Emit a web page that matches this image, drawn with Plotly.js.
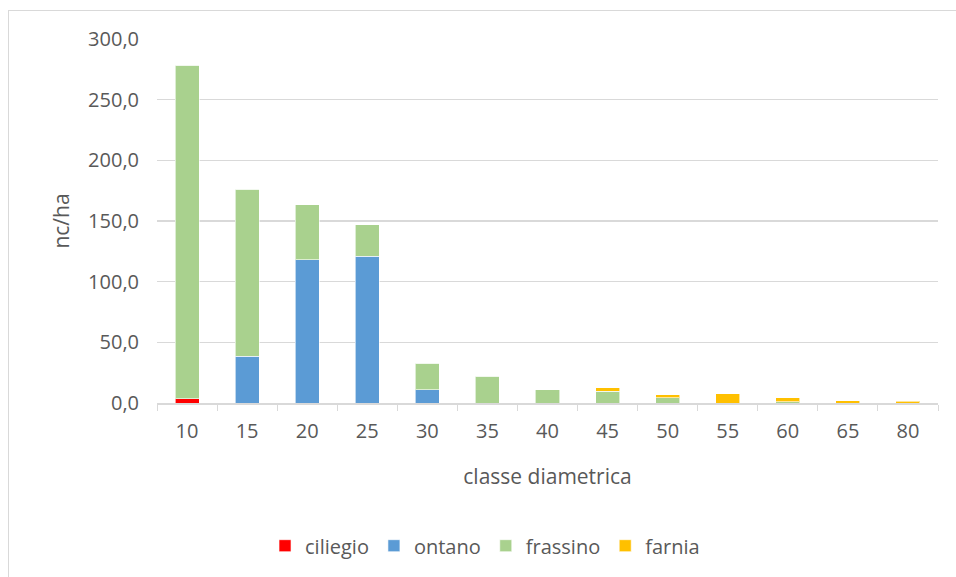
<!DOCTYPE html>
<html>
<head>
<meta charset="utf-8">
<script src="https://cdn.plot.ly/plotly-3.0.1.min.js"></script>
<style>
html,body{margin:0;padding:0;background:#fff;}
#frame{position:absolute;left:8px;top:10px;width:960px;height:580px;border:1px solid #d9d9d9;box-sizing:border-box;}
#chart{position:absolute;left:0;top:0;width:956px;height:577px;}
</style>
</head>
<body>
<div id="frame"></div>
<div id="chart"></div>
<script>
var categories = ["10","15","20","25","30","35","40","45","50","55","60","65","80"];
var ciliegio = [3.4, 0, 0, 0, 0, 0, 0, 0, 0, 0, 0, 0, 0];
var ontano   = [0, 38.6, 118.1, 121.1, 11.0, 0, 0, 0, 0, 0, 0, 0, 0];
var frassino = [275.1, 137.5, 45.2, 25.9, 21.8, 22.0, 10.8, 9.7, 4.5, 0, 1.0, 0, 0];
var farnia   = [0, 0, 0, 0, 0, 0, 0, 3.0, 2.2, 7.5, 3.5, 1.9, 1.6];
var seriesNames = ["ciliegio","ontano","frassino","farnia"];
var seriesColors = ["#FF0000","#5B9BD5","#A9D18E","#FFC000"];
var seriesValues = [ciliegio, ontano, frassino, farnia];

var traces = seriesValues.map(function(v,i){
  return {
    type:'bar', x:categories, y:v, name:seriesNames[i],
    marker:{color:seriesColors[i], line:{color:'rgba(255,255,255,0.6)', width:1}},
    hoverinfo:'x+y+name'
  };
});

var font = "'Open Sans', 'Noto Sans', sans-serif";
var layout = {
  width:956, height:577,
  paper_bgcolor:'rgba(0,0,0,0)', plot_bgcolor:'rgba(0,0,0,0)',
  barmode:'stack', bargap:0.6,
  separators:',.',
  margin:{l:157, r:18, t:39, b:171},
  font:{family:font, size:20, color:'#595959'},
  xaxis:{
    type:'category', tickson:'boundaries', ticks:'outside', ticklen:6, tickcolor:'#d9d9d9',
    showline:true, linecolor:'#d9d9d9', linewidth:1.5, showgrid:false,
    ticklabelstandoff:9,
    tickfont:{size:20, color:'#595959'},
    title:{text:'classe diametrica', font:{size:21, color:'#595959'}, standoff:27},
    automargin:false
  },
  yaxis:{
    range:[0,300], dtick:50, tickformat:'.1f',
    showgrid:true, gridcolor:'#d9d9d9', gridwidth:1.3,
    zeroline:false, showline:false, ticks:'',
    ticklabelstandoff:17,
    tickfont:{size:20, color:'#595959'},
    title:{text:'nc/ha', font:{size:21, color:'#595959'}, standoff:12},
    automargin:false
  },
  legend:{orientation:'h', x:0.42, xanchor:'center', y:-0.392, yanchor:'middle',
    font:{size:20, color:'#595959'}, traceorder:'normal', itemwidth:30},
  showlegend:true
};
Plotly.newPlot('chart', traces, layout, {displayModeBar:false, staticPlot:true});
</script>
</body>
</html>
